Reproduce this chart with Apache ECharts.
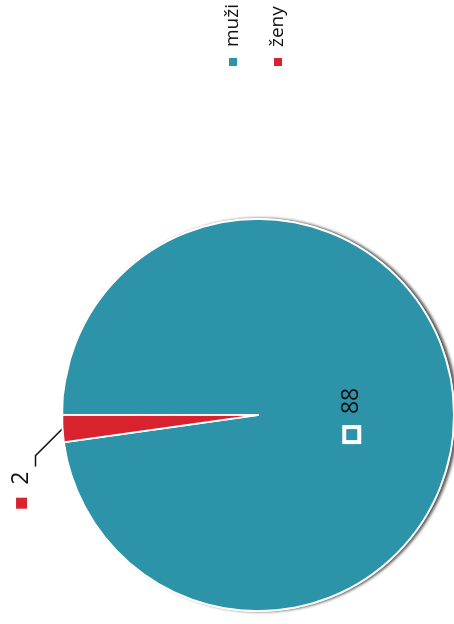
<!DOCTYPE html>
<html><head><meta charset="utf-8">
<script src="https://cdn.jsdelivr.net/npm/echarts@6/dist/echarts.min.js"></script>
<style>
html,body{margin:0;padding:0;background:#fff;overflow:hidden;width:454px;height:624px}
#wrap{position:absolute;left:0;top:0;width:624px;height:454px;transform-origin:0 0;transform:translate(0,624px) rotate(-90deg);}
</style></head><body><div id="wrap"></div>
<script>
const categories = ['muži', 'ženy'];
const values = [88, 2];
const colors = ['#2c93a8', '#d8222e'];
const labelPositions = ['inside', 'outside'];

const chart = echarts.init(document.getElementById('wrap'), null, {renderer: 'canvas'});
const font = '"Open Sans", "Noto Sans", sans-serif';
const total = values.reduce((s, v) => s + v, 0);

const data = categories.map((name, i) => ({
  name: name,
  value: values[i],
  itemStyle: {color: colors[i]},
  label: i === 0 ? {
    position: labelPositions[i],
    formatter: '{hollow|}{sp|}{v|{c}}',
    offset: [-7, -7]
  } : {
    position: labelPositions[i],
    formatter: '{solid|}{sp|}{v|{c}}',
    padding: [0, 0, 28, 0]
  },
  labelLine: {show: i !== 0}
}));

chart.setOption({
  backgroundColor: '#ffffff',
  animation: false,
  legend: {
    orient: 'vertical',
    left: 556,
    top: 222,
    padding: 0,
    icon: 'rect',
    itemWidth: 10,
    itemHeight: 10,
    itemGap: 23,
    textStyle: {fontFamily: font, fontSize: 19, color: '#111', lineHeight: 22, padding: [0, 0, 0, 5]},
    data: categories
  },
  series: [{
    // white disc under the pie that carries the drop shadow
    type: 'pie',
    name: 'shadow',
    z: 1,
    silent: true,
    center: [209, 258],
    radius: 197,
    label: {show: false},
    labelLine: {show: false},
    itemStyle: {
      color: '#ffffff',
      borderWidth: 0,
      shadowBlur: 3,
      shadowOffsetY: 3,
      shadowColor: 'rgba(0,0,0,0.65)'
    },
    data: [{name: 'total', value: total}]
  }, {
    type: 'pie',
    z: 2,
    center: [209, 258],
    radius: 196,
    startAngle: 90,
    clockwise: true,
    avoidLabelOverlap: false,
    itemStyle: {
      borderColor: '#ffffff',
      borderWidth: 1.8
    },
    label: {
      show: true,
      fontFamily: font,
      fontSize: 23,
      color: '#111',
      rich: {
        hollow: {width: 15, height: 15, borderColor: '#ffffff', borderWidth: 2, backgroundColor: 'transparent'},
        solid: {width: 11, height: 11, backgroundColor: colors[1]},
        sp: {width: 13},
        v: {fontFamily: font, fontSize: 23, color: '#111'}
      }
    },
    labelLine: {
      length: 27,
      length2: 36,
      lineStyle: {color: '#111', width: 1.6}
    },
    labelLayout: function (params) {
      const p = params.labelLinePoints;
      if (!p || p.length < 3) return {};
      const a = p[0], c = p[2];
      const rise = c[1] - a[1];
      const mid = [a[0] + rise, c[1]];
      return {labelLinePoints: [a, mid, c]};
    },
    data: data
  }]
});
</script></body></html>
